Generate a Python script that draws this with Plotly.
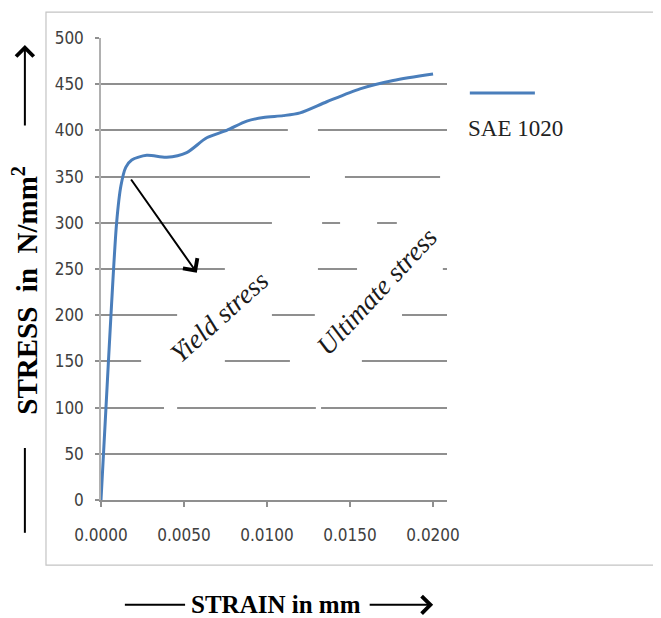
import plotly.graph_objects as go

# ---- data ----
strain = [0, 0.00030, 0.00060, 0.00094, 0.00120, 0.00149,
          0.00185, 0.00275, 0.00396, 0.00516, 0.00637, 0.00757, 0.00878, 0.00978,
          0.01098, 0.01199, 0.0136, 0.0156, 0.0176, 0.0200]
stress = [0, 100, 200, 300, 340, 360,
          368, 373, 371, 376, 392, 400, 410, 414,
          416, 419, 431, 445, 454, 461]
series_name = "SAE 1020"
x_ticks = [0.0, 0.005, 0.010, 0.015, 0.020]
y_ticks = [0, 50, 100, 150, 200, 250, 300, 350, 400, 450, 500]

# gaps in gridlines (white text-box backgrounds): (stress level, x0 paper, x1 paper)
grid_gaps = [(400, 0.54, 0.627), (350, 0.604, 0.705), (350, 0.98, 1.0),
             (300, 0.494, 0.639), (300, 0.691, 0.798), (300, 0.855, 1.0),
             (250, 0.358, 0.627), (250, 0.74, 0.988),
             (200, 0.220, 0.494), (200, 0.618, 0.870),
             (150, 0.116, 0.358), (150, 0.546, 0.754),
             (100, 0.182, 0.220), (100, 0.621, 0.636)]

BLUE = "#4a7ebb"
GRID = "#8f8f8f"
TICKFONT = dict(family="Liberation Sans Narrow, DejaVu Sans Condensed, Arial Narrow, sans-serif",
                size=17, color="#404040")
SERIF = "Liberation Serif, Times New Roman, serif"

fig = go.Figure()
fig.add_trace(go.Scatter(x=strain, y=stress, mode="lines", name=series_name,
                         line=dict(color=BLUE, width=3, shape="spline", smoothing=0.8),
                         showlegend=False))

shapes = []
# outer chart-area border
shapes.append(dict(type="rect", xref="paper", yref="paper", x0=-0.159, x1=1.7, y0=-0.141, y1=1.056,
                   line=dict(color="#c4c4c4", width=1.2), fillcolor="rgba(0,0,0,0)", layer="below"))
for (lvl, a, b) in grid_gaps:
    shapes.append(dict(type="rect", xref="paper", yref="y", x0=a, x1=b, y0=lvl - 3, y1=lvl + 3,
                       line=dict(width=0), fillcolor="white", layer="above"))
# legend line
shapes.append(dict(type="line", xref="paper", yref="paper", x0=1.066, x1=1.254, y0=0.881, y1=0.881,
                   line=dict(color=BLUE, width=3)))
# x-title left line
shapes.append(dict(type="line", xref="paper", yref="paper", x0=0.069, x1=0.243, y0=-0.227, y1=-0.227,
                   line=dict(color="black", width=2)))
# y-title lower line
shapes.append(dict(type="line", xref="paper", yref="paper", x0=-0.22, x1=-0.22, y0=0.1126, y1=-0.071,
                   line=dict(color="black", width=2)))

annotations = [
    # yield stress arrow
    dict(x=0.00577, y=246, ax=0.00175, ay=348.5, xref="x", yref="y", axref="x", ayref="y",
         text="", showarrow=True, arrowhead=4, arrowsize=1.7, arrowwidth=2, arrowcolor="black"),
    dict(x=0.00712, y=198, xref="x", yref="y", text="<i>Yield stress</i>", showarrow=False,
         xanchor="center", yanchor="middle",
         textangle=-42, font=dict(family=SERIF, size=27, color="#1a1a1a")),
    dict(x=0.01665, y=226, xref="x", yref="y", text="<i>Ultimate stress</i>", showarrow=False,
         xanchor="center", yanchor="middle",
         textangle=-47, font=dict(family=SERIF, size=27, color="#1a1a1a")),
    # legend text
    dict(x=1.197, y=0.805, xref="paper", yref="paper", text=series_name, showarrow=False,
         xanchor="center", yanchor="middle",
         font=dict(family=SERIF, size=23, color="#222222")),
    # y title
    dict(x=-0.22, y=0.455, xref="paper", yref="paper", text="<b>STRESS  in  N/mm<sup>2</sup></b>",
         showarrow=False, textangle=-90, xanchor="center", yanchor="middle",
         font=dict(family=SERIF, size=29, color="black")),
    # y-title up arrow
    dict(x=-0.22, y=0.985, xref="paper", yref="paper", ax=0, ay=82, text="", showarrow=True,
         arrowhead=4, arrowsize=1.7, arrowwidth=2, arrowcolor="black"),
    # x title
    dict(x=0.505, y=-0.227, xref="paper", yref="paper", text="<b>STRAIN in mm</b>", showarrow=False,
         xanchor="center", yanchor="middle",
         font=dict(family=SERIF, size=25, color="black")),
    # x-title right arrow
    dict(x=0.96, y=-0.227, xref="paper", yref="paper", ax=-65, ay=0, text="", showarrow=True,
         arrowhead=4, arrowsize=1.7, arrowwidth=2, arrowcolor="black"),
]

fig.update_layout(
    width=653, height=610,
    margin=dict(l=93, r=214, t=30, b=118),
    paper_bgcolor="white", plot_bgcolor="white",
    shapes=shapes, annotations=annotations,
    showlegend=False,
)
fig.update_xaxes(range=[0, 0.02084], tickvals=x_ticks, tickformat=".4f",
                 showgrid=False, zeroline=False, showline=True, linecolor=GRID, linewidth=1.5,
                 ticks="outside", ticklen=5, tickcolor=GRID, tickwidth=1.5,
                 tickfont=TICKFONT, ticklabelstandoff=14)
fig.update_yaxes(range=[0, 500], tickvals=y_ticks,
                 showgrid=True, gridcolor=GRID, gridwidth=1.5, zeroline=False,
                 showline=True, linecolor="#b0b0b0", linewidth=1.5,
                 ticks="outside", ticklen=4, tickcolor=GRID, tickwidth=1.5,
                 tickfont=TICKFONT, ticklabelstandoff=8)

fig.write_html("out.html")
